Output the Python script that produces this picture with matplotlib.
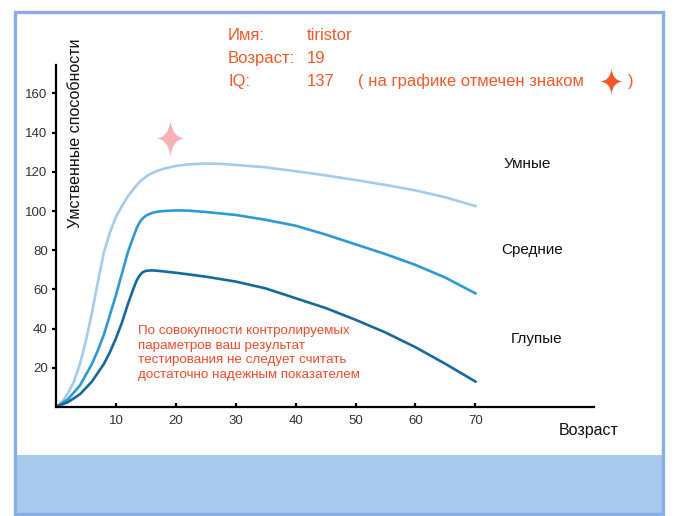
import numpy as np
import matplotlib.pyplot as plt
from matplotlib.path import Path
from matplotlib.patches import Rectangle

plt.rcParams['font.family'] = ['Liberation Sans', 'DejaVu Sans']

# curves (age, level)
age_smart = [0, 1, 2, 3, 4, 5, 6, 7, 8, 9, 10, 11, 12, 13, 14, 15, 16, 17, 18, 20, 22,
             25, 28, 30, 35, 40, 45, 50, 55, 60, 65, 70]
smart = [0, 2.5, 7, 13, 22, 34, 48, 64, 79, 89, 97, 102.5, 107.5, 111.5, 115, 117.5,
         119.3, 120.6, 121.6, 123, 123.8, 124.2, 124, 123.5, 122.3, 120.3, 118.2, 115.8,
         113.3, 110.5, 107, 102.5]

age_avg = [0, 2, 4, 6, 7, 8, 9, 10, 11, 12, 13, 13.5, 14, 14.5, 15, 16, 17, 18, 20, 22,
           25, 30, 35, 40, 45, 50, 55, 60, 65, 70]
average = [0, 4, 11, 22, 29, 37, 47, 57, 68, 79, 87.5, 91.5, 94.5, 96.3, 97.6, 99, 99.7,
           100, 100.3, 100.2, 99.5, 98, 95.5, 92.5, 88, 83, 78, 72.5, 66, 58]

age_dumb = [0, 2, 4, 6, 8, 9, 10, 11, 12, 13, 13.5, 14, 14.5, 15, 16, 17, 20, 25, 30, 35,
            40, 45, 50, 55, 60, 65, 70]
dumb = [0, 2.5, 6.5, 13, 22, 28, 35, 43, 52.5, 61, 64.8, 67.3, 68.8, 69.5, 69.7, 69.5,
        68.5, 66.5, 64, 60.5, 55.5, 50.5, 44.5, 38, 30.5, 22, 13]

curve_names = ['Умные', 'Средние', 'Глупые']
x_ticks = [10, 20, 30, 40, 50, 60, 70]
y_ticks = [20, 40, 60, 80, 100, 120, 140, 160]

person_name = 'tiristor'
person_age = 19
person_iq = 137

note = ('По совокупности контролируемых\n'
        'параметров ваш результат\n'
        'тестирования не следует считать\n'
        'достаточно надежным показателем')

W, H = 675, 516


def px(x, y):
    return x / W, 1 - y / H


def star(rx=0.75, c=0.1):
    verts = [(0, 1), (c, c), (rx, 0), (c, -c), (0, -1), (-c, -c), (-rx, 0), (-c, c),
             (0, 1), (0, 1)]
    codes = [Path.MOVETO] + [Path.CURVE3] * 8 + [Path.CLOSEPOLY]
    return Path(verts, codes)


fig = plt.figure(figsize=(6.75, 5.16), dpi=100)

# frame and bottom band
fig.patches.append(Rectangle(px(16, 514), (662 - 16) / W, (514 - 455) / H,
                             transform=fig.transFigure, facecolor='#a7c9eb',
                             edgecolor='none', zorder=-2))
fig.patches.append(Rectangle(px(15, 514), (663 - 15) / W, (514 - 12) / H,
                             transform=fig.transFigure, facecolor='none',
                             edgecolor='#88aee3', linewidth=2.4, zorder=-1))

ax = fig.add_axes([56 / W, 1 - 407 / H, (594 - 56) / W, (407 - 65) / H])
ax.set_xlim(0, 89.8)
ax.set_ylim(0, 174.5)
ax.patch.set_alpha(0)

ax.plot(age_smart, smart, color='#a4cbea', lw=1.9)
ax.plot(age_avg, average, color='#2d9bd2', lw=1.9)
ax.plot(age_dumb, dumb, color='#16699d', lw=1.9)

ax.plot([person_age], [person_iq], marker=star(), markersize=26, color='#f6b2b4',
        markeredgewidth=0, linestyle='none')

for s in ['top', 'right']:
    ax.spines[s].set_visible(False)
for s in ['left', 'bottom']:
    ax.spines[s].set_linewidth(1.6)

ax.set_xticks(x_ticks)
ax.set_yticks(y_ticks)
ax.tick_params(axis='y', direction='out', length=3, width=1.6, pad=3,
               labelsize=9.5, labelcolor='#333333')
ax.tick_params(axis='x', direction='in', length=3, width=1.6, pad=6,
               labelsize=9.5, labelcolor='#333333')

# labels
fig.text(*px(75, 133), 'Умственные способности', rotation=90, fontsize=11.5,
         ha='center', va='center', color='#111111')
fig.text(*px(589, 430), 'Возраст', fontsize=11.5, ha='center', va='center',
         color='#111111')
label_pos = [(527, 164), (532, 250), (537, 339)]
for name, (x, y) in zip(curve_names, label_pos):
    fig.text(*px(x, y), name, fontsize=11, ha='center', va='center', color='#111111')

fig.text(*px(138, 353), note, fontsize=9.6, ha='left', va='center',
         color='#ee4b2b', linespacing=1.33)

# info block
orange = '#f0582a'
rows = [('Имя:', person_name, 40), ('Возраст:', str(person_age), 63),
        ('IQ:', str(person_iq), 86)]
for k, v, y in rows:
    fig.text(*px(228, y), k, fontsize=12, ha='left', va='baseline', color=orange)
    fig.text(*px(307, y), v, fontsize=12, ha='left', va='baseline', color=orange)
fig.text(*px(358, 86), '( на графике отмечен знаком', fontsize=12, ha='left',
         va='baseline', color=orange)
fig.text(*px(628, 86), ')', fontsize=12, ha='left', va='baseline', color=orange)
sx, sy = px(611, 81)
fig.add_artist(plt.Line2D([sx], [sy], marker=star(0.85, 0.07), markersize=19,
                          color=orange, markeredgewidth=0, linestyle='none',
                          transform=fig.transFigure))

fig.savefig('out.png', dpi=100)
